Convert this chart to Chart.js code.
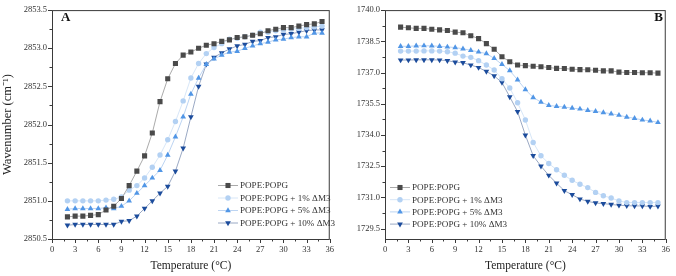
<!DOCTYPE html>
<html>
<head>
<meta charset="utf-8">
<script src="https://cdn.jsdelivr.net/npm/chart.js@4/dist/chart.umd.min.js"></script>
<style>
  html, body { margin: 0; padding: 0; background: #fff; }
  #wrap { position: relative; width: 676px; height: 276px; }
  #boxA { position: absolute; left: 0; top: 0; width: 340px; height: 276px; }
  #boxB { position: absolute; left: 340px; top: 0; width: 336px; height: 276px; }
</style>
</head>
<body>
<div id="wrap">
  <div id="boxA"><canvas id="chartA"></canvas></div>
  <div id="boxB"><canvas id="chartB"></canvas></div>
</div>
<script>
// temperatures (°C)
let temps = [2, 3, 4, 5, 6, 7, 8, 9, 10, 11, 12, 13, 14, 15, 16, 17, 18, 19, 20, 21, 22, 23, 24, 25, 26, 27, 28, 29, 30, 31, 32, 33, 34, 35];

let seriesNames = ['POPE:POPG', 'POPE:POPG + 1% ΔM3', 'POPE:POPG + 5% ΔM3', 'POPE:POPG + 10% ΔM3'];

// panel A, wavenumber (cm-1)
let aPure = [2850.79, 2850.80, 2850.80, 2850.81, 2850.82, 2850.88, 2850.93, 2851.03, 2851.20, 2851.39, 2851.59, 2851.89, 2852.30, 2852.60, 2852.80, 2852.91, 2852.95, 2853.00, 2853.04, 2853.06, 2853.09, 2853.11, 2853.14, 2853.15, 2853.17, 2853.19, 2853.23, 2853.25, 2853.27, 2853.27, 2853.29, 2853.31, 2853.32, 2853.35];
let a1 = [2851.00, 2851.00, 2851.00, 2851.00, 2851.00, 2851.01, 2851.02, 2851.05, 2851.14, 2851.20, 2851.30, 2851.44, 2851.60, 2851.80, 2852.04, 2852.31, 2852.61, 2852.80, 2852.93, 2853.01, 2853.06, 2853.12, 2853.13, 2853.15, 2853.17, 2853.21, 2853.21, 2853.23, 2853.24, 2853.25, 2853.26, 2853.27, 2853.28, 2853.29];
let a5 = [2850.89, 2850.90, 2850.90, 2850.90, 2850.90, 2850.91, 2850.90, 2850.93, 2851.00, 2851.10, 2851.20, 2851.30, 2851.40, 2851.60, 2851.84, 2852.10, 2852.40, 2852.61, 2852.79, 2852.86, 2852.91, 2852.95, 2852.96, 2853.00, 2853.03, 2853.06, 2853.08, 2853.11, 2853.12, 2853.14, 2853.15, 2853.15, 2853.20, 2853.20];
let a10 = [2850.68, 2850.69, 2850.69, 2850.69, 2850.69, 2850.69, 2850.69, 2850.73, 2850.74, 2850.80, 2850.90, 2851.00, 2851.10, 2851.19, 2851.39, 2851.69, 2852.10, 2852.50, 2852.79, 2852.88, 2852.94, 2852.99, 2853.03, 2853.05, 2853.09, 2853.10, 2853.14, 2853.15, 2853.18, 2853.19, 2853.21, 2853.23, 2853.24, 2853.24];

// panel B, wavenumber (cm-1)
let bPure = [1739.18, 1739.15, 1739.12, 1739.12, 1739.08, 1739.05, 1739.02, 1738.94, 1738.91, 1738.77, 1738.63, 1738.39, 1738.12, 1737.76, 1737.52, 1737.36, 1737.33, 1737.30, 1737.28, 1737.24, 1737.20, 1737.19, 1737.16, 1737.14, 1737.13, 1737.11, 1737.08, 1737.08, 1737.02, 1737.00, 1737.00, 1736.99, 1736.99, 1736.97];
let b1 = [1738.03, 1738.03, 1738.03, 1738.04, 1738.04, 1738.03, 1738.00, 1737.93, 1737.79, 1737.73, 1737.57, 1737.36, 1737.12, 1736.70, 1736.26, 1735.55, 1734.72, 1733.64, 1733.00, 1732.63, 1732.33, 1732.06, 1731.82, 1731.63, 1731.47, 1731.24, 1731.08, 1730.97, 1730.83, 1730.75, 1730.75, 1730.75, 1730.75, 1730.75];
let b5 = [1738.26, 1738.26, 1738.28, 1738.29, 1738.28, 1738.26, 1738.23, 1738.20, 1738.14, 1738.07, 1737.99, 1737.91, 1737.68, 1737.39, 1737.09, 1736.65, 1736.18, 1735.80, 1735.58, 1735.42, 1735.38, 1735.34, 1735.29, 1735.25, 1735.18, 1735.14, 1735.08, 1735.02, 1734.95, 1734.86, 1734.80, 1734.72, 1734.68, 1734.60];
let b10 = [1737.60, 1737.60, 1737.61, 1737.61, 1737.61, 1737.60, 1737.57, 1737.50, 1737.47, 1737.36, 1737.24, 1737.05, 1736.84, 1736.52, 1735.83, 1735.12, 1733.99, 1733.00, 1732.50, 1732.06, 1731.68, 1731.32, 1731.13, 1730.92, 1730.81, 1730.73, 1730.70, 1730.66, 1730.62, 1730.60, 1730.59, 1730.59, 1730.56, 1730.58];

// tick labels
let xTicks = [0, 3, 6, 9, 12, 15, 18, 21, 24, 27, 30, 33, 36];
let aYTicks = [2850.5, 2851.0, 2851.5, 2852.0, 2852.5, 2853.0, 2853.5];
let bYTicks = [1729.5, 1731.0, 1732.5, 1734.0, 1735.5, 1737.0, 1738.5, 1740.0];

let markerColors = ['#4a4a4a', '#b3d1f3', '#5196e6', '#1c4c9c'];
let lineColors = ['#a0a0a0', '#d3e3f6', '#b4cff0', '#8e9fbd'];
let markerShapes = ['rect', 'circle', 'triangle', 'triangle'];
let markerRotations = [0, 0, 0, 180];
let markerSizes = [3.6, 2.7, 3.3, 3.3];

const serif = '"Liberation Serif", "Times New Roman", serif';

function makeDatasets(lists) {
    return lists.map((vals, i) => ({
        label : seriesNames[i],
        data : temps.map((t, j) => ({x : t, y : vals[j]})),
        borderColor : lineColors[i],
        borderWidth : 0.9,
        backgroundColor : markerColors[i],
        pointBackgroundColor : markerColors[i],
        pointBorderColor : markerColors[i],
        pointBorderWidth : 0,
        pointStyle : markerShapes[i],
        pointRotation : markerRotations[i],
        pointRadius : markerSizes[i],
        tension : 0,
        fill : false
    }));
}

function drawMarker(ctx, i, x, y) {
    let r = markerSizes[i];
    ctx.fillStyle = markerColors[i];
    ctx.beginPath();
    if (markerShapes[i] === 'rect') {
        let s = Math.SQRT1_2 * r;
        ctx.rect(x - s, y - s, 2 * s, 2 * s);
    } else if (markerShapes[i] === 'circle') {
        ctx.arc(x, y, r, 0, Math.PI * 2);
    } else {
        let dir = markerRotations[i] ? -1 : 1;
        ctx.moveTo(x, y - dir * r);
        ctx.lineTo(x + r * 0.866, y + dir * r / 2);
        ctx.lineTo(x - r * 0.866, y + dir * r / 2);
        ctx.closePath();
    }
    ctx.fill();
}

// frame, minor ticks, legend and panel letter
let panelDecor = {
    id : 'panelDecor',
    afterDraw(chart, args, opts) {
        let ctx = chart.ctx;
        let area = chart.chartArea;
        let xs = chart.scales.x, ys = chart.scales.y;
        ctx.save();
        ctx.strokeStyle = '#3a3a3a';
        ctx.lineWidth = 1;
        ctx.strokeRect(area.left + 0.5, area.top + 0.5, area.right - area.left - 1, area.bottom - area.top);

        ctx.beginPath();
        let xv = xs.ticks.map(t => t.value);
        xv.forEach((v, k) => {
            let px = Math.round(xs.getPixelForValue(v)) + 0.5;
            ctx.moveTo(px, area.bottom); ctx.lineTo(px, area.bottom + 4);
            if (k < xv.length - 1) {
                let mx = Math.round(xs.getPixelForValue((v + xv[k + 1]) / 2)) + 0.5;
                ctx.moveTo(mx, area.bottom); ctx.lineTo(mx, area.bottom + 2.5);
            }
        });
        let yv = ys.ticks.map(t => t.value);
        yv.forEach((v, k) => {
            let py = Math.round(ys.getPixelForValue(v)) + 0.5;
            ctx.moveTo(area.left, py); ctx.lineTo(area.left - 4, py);
            if (k < yv.length - 1) {
                let my = Math.round(ys.getPixelForValue((v + yv[k + 1]) / 2)) + 0.5;
                ctx.moveTo(area.left, my); ctx.lineTo(area.left - 2.5, my);
            }
        });
        ctx.stroke();

        // legend
        ctx.font = '9.1px ' + serif;
        ctx.textBaseline = 'middle';
        ctx.textAlign = 'left';
        seriesNames.forEach((name, i) => {
            let y = opts.legendY + i * opts.legendGap;
            ctx.strokeStyle = lineColors[i];
            ctx.lineWidth = 0.9;
            ctx.beginPath();
            ctx.moveTo(opts.legendX, y); ctx.lineTo(opts.legendX + 20, y);
            ctx.stroke();
            drawMarker(ctx, i, opts.legendX + 10, y);
            ctx.fillStyle = '#333';
            ctx.fillText(name, opts.legendX + 22, y + 0.5);
        });

        ctx.font = 'bold 13px ' + serif;
        ctx.fillStyle = '#111';
        ctx.textAlign = opts.letterAlign;
        ctx.fillText(opts.letter, opts.letterX, opts.letterY);
        ctx.restore();
    }
};

function makeConfig(lists, yTicks, yMin, yMax, pad, yWidth, yTitle, decor) {
    return {
        type : 'line',
        data : {datasets : makeDatasets(lists)},
        options : {
            responsive : true,
            maintainAspectRatio : false,
            animation : false,
            events : [],
            layout : {padding : pad, autoPadding : false},
            plugins : {
                legend : {display : false},
                tooltip : {enabled : false},
                panelDecor : decor
            },
            scales : {
                x : {
                    type : 'linear', min : 0, max : 36,
                    afterBuildTicks : s => { s.ticks = xTicks.map(v => ({value : v})); },
                    afterFit : s => { s.height = 37 - pad.bottom; },
                    grid : {display : false, drawTicks : false},
                    border : {display : false},
                    ticks : {autoSkip : false, maxRotation : 0, padding : 6, color : '#333',
                             font : {family : serif, size : 8.5}},
                    title : {display : true, text : 'Temperature (°C)', color : '#222',
                             font : {family : serif, size : 11.5}, padding : {top : 0, bottom : 3}}
                },
                y : {
                    type : 'linear', min : yMin, max : yMax,
                    afterBuildTicks : s => { s.ticks = yTicks.map(v => ({value : v})); },
                    afterFit : s => { s.width = yWidth; },
                    grid : {display : false, drawTicks : false},
                    border : {display : false},
                    ticks : {autoSkip : false, padding : 5, color : '#333',
                             font : {family : serif, size : 8.5},
                             callback : v => Number(v).toFixed(1)},
                    title : {display : !!yTitle, text : yTitle, color : '#222',
                             font : {family : serif, size : 12.5}, padding : {top : 0, bottom : 0}}
                }
            }
        },
        plugins : [panelDecor]
    };
}

new Chart(document.getElementById('chartA').getContext('2d'),
    makeConfig([aPure, a1, a5, a10], aYTicks, 2850.5, 2853.5,
        {left : 0, right : 1, top : 4, bottom : 0}, 52, 'Wavenumber (cm⁻¹)',
        {legendX : 218, legendY : 185.5, legendGap : 12.5, letter : 'A', letterX : 61, letterY : 18, letterAlign : 'left'}));

new Chart(document.getElementById('chartB').getContext('2d'),
    makeConfig([bPure, b1, b5, b10], bYTicks, 1729, 1740,
        {left : 0, right : 10, top : 6, bottom : 0}, 45, '',
        {legendX : 50, legendY : 187.5, legendGap : 12.2, letter : 'B', letterX : 323, letterY : 18, letterAlign : 'right'}));
</script>
</body>
</html>
